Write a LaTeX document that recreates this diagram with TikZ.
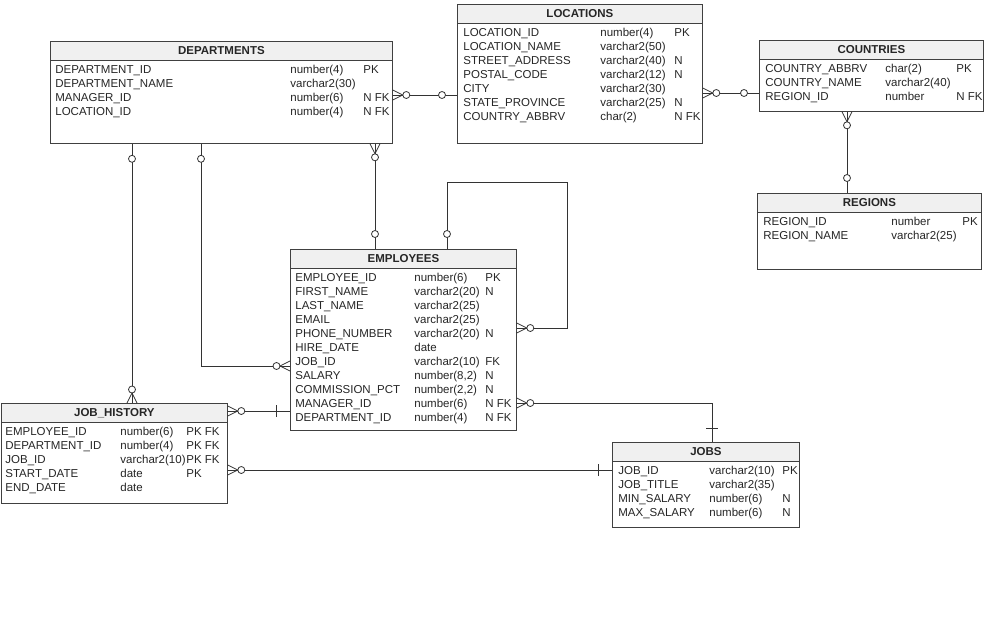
\documentclass[tikz,border=0pt]{standalone}
\usepackage{fontspec}
\setmainfont{Liberation Sans}
\usepackage{xcolor}
\usetikzlibrary{positioning}

\begin{document}
\begin{tikzpicture}[x=1pt, y=-1pt, line width=0.8pt,
  font=\fontsize{11.5}{14}\selectfont, text=black!85,
  tbl/.style={draw=black!75, fill=white, inner sep=0pt, anchor=north west},
  hdr/.style={draw=black!75, fill=gray!12, inner sep=0pt, anchor=north west,
    minimum height=19pt, font=\fontsize{11.5}{14}\selectfont\bfseries},
  cell/.style={anchor=west, inner sep=0pt, text height=8pt, text depth=2pt},
  link/.style={draw=black!80},
  pics/crowfoot/.style={code={
    \draw[black!80] (0,-5) -- (10,0) -- (0,5);
    \draw[black!80, fill=white] (13.5,0) circle (3.5);}},
  pics/zeroone/.style={code={\draw[black!80, fill=white] (15,0) circle (3.5);}},
  pics/onebar/.style={code={\draw[black!80] (14,-6) -- (14,6);}}]

\useasboundingbox (0,0) rectangle (993,621);

% -- DEPARTMENTS --------------------------------------------------------------
\begin{scope}[shift={(50,41)}]
  \node[tbl, minimum width=342pt, minimum height=102pt] (dept) at (0,0) {};
  \node[hdr, minimum width=342pt] (dept-h) at (0,0) {DEPARTMENTS};
  \foreach \n/\t/\f [count=\i] in {DEPARTMENT\_ID/number(4)/PK,
      DEPARTMENT\_NAME/varchar2(30)/, MANAGER\_ID/number(6)/N FK,
      LOCATION\_ID/number(4)/N FK} {
    \node[cell] (dept-n\i) at (5,15+14*\i) {\n};
    \node[cell] (dept-t\i) at (240,15+14*\i) {\t};
    \node[cell] (dept-f\i) at (313,15+14*\i) {\f};
  }
\end{scope}

% -- LOCATIONS ----------------------------------------------------------------
\begin{scope}[shift={(457,4)}]
  \node[tbl, minimum width=245pt, minimum height=139pt] (loc) at (0,0) {};
  \node[hdr, minimum width=245pt] (loc-h) at (0,0) {LOCATIONS};
  \foreach \n/\t/\f [count=\i] in {LOCATION\_ID/number(4)/PK,
      LOCATION\_NAME/varchar2(50)/, STREET\_ADDRESS/varchar2(40)/N,
      POSTAL\_CODE/varchar2(12)/N, CITY/varchar2(30)/,
      STATE\_PROVINCE/varchar2(25)/N, COUNTRY\_ABBRV/char(2)/N FK} {
    \node[cell] (loc-n\i) at (6,15+14*\i) {\n};
    \node[cell] (loc-t\i) at (143,15+14*\i) {\t};
    \node[cell] (loc-f\i) at (217,15+14*\i) {\f};
  }
\end{scope}

% -- COUNTRIES ----------------------------------------------------------------
\begin{scope}[shift={(759,40)}]
  \node[tbl, minimum width=224pt, minimum height=71pt] (ctry) at (0,0) {};
  \node[hdr, minimum width=224pt] (ctry-h) at (0,0) {COUNTRIES};
  \foreach \n/\t/\f [count=\i] in {COUNTRY\_ABBRV/char(2)/PK,
      COUNTRY\_NAME/varchar2(40)/, REGION\_ID/number/N FK} {
    \node[cell] (ctry-n\i) at (6,15+14*\i) {\n};
    \node[cell] (ctry-t\i) at (126,15+14*\i) {\t};
    \node[cell] (ctry-f\i) at (197,15+14*\i) {\f};
  }
\end{scope}

% -- REGIONS ------------------------------------------------------------------
\begin{scope}[shift={(757,193)}]
  \node[tbl, minimum width=224pt, minimum height=76pt] (reg) at (0,0) {};
  \node[hdr, minimum width=224pt] (reg-h) at (0,0) {REGIONS};
  \foreach \n/\t/\f [count=\i] in {REGION\_ID/number/PK,
      REGION\_NAME/varchar2(25)/} {
    \node[cell] (reg-n\i) at (6,15+14*\i) {\n};
    \node[cell] (reg-t\i) at (134,15+14*\i) {\t};
    \node[cell] (reg-f\i) at (205,15+14*\i) {\f};
  }
\end{scope}

% -- EMPLOYEES ----------------------------------------------------------------
\begin{scope}[shift={(290,249)}]
  \node[tbl, minimum width=226pt, minimum height=181pt] (emp) at (0,0) {};
  \node[hdr, minimum width=226pt] (emp-h) at (0,0) {EMPLOYEES};
  \foreach \n/\t/\f [count=\i] in {EMPLOYEE\_ID/number(6)/PK,
      FIRST\_NAME/varchar2(20)/N, LAST\_NAME/varchar2(25)/,
      EMAIL/varchar2(25)/, PHONE\_NUMBER/varchar2(20)/N, HIRE\_DATE/date/,
      JOB\_ID/varchar2(10)/FK, SALARY/{number(8,2)}/N,
      COMMISSION\_PCT/{number(2,2)}/N, MANAGER\_ID/number(6)/N FK,
      DEPARTMENT\_ID/number(4)/N FK} {
    \node[cell] (emp-n\i) at (5,15+14*\i) {\n};
    \node[cell] (emp-t\i) at (124,15+14*\i) {\t};
    \node[cell] (emp-f\i) at (195,15+14*\i) {\f};
  }
\end{scope}

% -- JOB_HISTORY --------------------------------------------------------------
\begin{scope}[shift={(1,403)}]
  \node[tbl, minimum width=226pt, minimum height=100pt] (jhist) at (0,0) {};
  \node[hdr, minimum width=226pt] (jhist-h) at (0,0) {JOB\_HISTORY};
  \foreach \n/\t/\f [count=\i] in {EMPLOYEE\_ID/number(6)/PK FK,
      DEPARTMENT\_ID/number(4)/PK FK, JOB\_ID/varchar2(10)/PK FK,
      START\_DATE/date/PK, END\_DATE/date/} {
    \node[cell] (jhist-n\i) at (4,15+14*\i) {\n};
    \node[cell] (jhist-t\i) at (119,15+14*\i) {\t};
    \node[cell] (jhist-f\i) at (185,15+14*\i) {\f};
  }
\end{scope}

% -- JOBS ---------------------------------------------------------------------
\begin{scope}[shift={(612,442)}]
  \node[tbl, minimum width=187pt, minimum height=85pt] (jobs) at (0,0) {};
  \node[hdr, minimum width=187pt] (jobs-h) at (0,0) {JOBS};
  \foreach \n/\t/\f [count=\i] in {JOB\_ID/varchar2(10)/PK,
      JOB\_TITLE/varchar2(35)/, MIN\_SALARY/number(6)/N,
      MAX\_SALARY/number(6)/N} {
    \node[cell] (jobs-n\i) at (6,15+14*\i) {\n};
    \node[cell] (jobs-t\i) at (97,15+14*\i) {\t};
    \node[cell] (jobs-f\i) at (170,15+14*\i) {\f};
  }
\end{scope}

% -- Relationships ------------------------------------------------------------
\draw[link] (dept.east |- 0,95) -- (loc.west |- 0,95);
\pic at (dept.east |- 0,95) {crowfoot};
\pic[rotate=180] at (loc.west |- 0,95) {zeroone};

\draw[link] (loc.east |- 0,93) -- (ctry.west |- 0,93);
\pic at (loc.east |- 0,93) {crowfoot};
\pic[rotate=180] at (ctry.west |- 0,93) {zeroone};

\draw[link] (ctry.south -| 847,0) -- (reg.north -| 847,0);
\pic[rotate=-90] at (ctry.south -| 847,0) {crowfoot};
\pic[rotate=90] at (reg.north -| 847,0) {zeroone};

\draw[link] (dept.south -| 375,0) -- (emp.north -| 375,0);
\pic[rotate=-90] at (dept.south -| 375,0) {crowfoot};
\pic[rotate=90] at (emp.north -| 375,0) {zeroone};

% manager of an employee
\draw[link] (emp.north -| 447,0) |- (567,182) |- (emp.east |- 0,328);
\pic[rotate=90] at (emp.north -| 447,0) {zeroone};
\pic at (emp.east |- 0,328) {crowfoot};

\draw[link] (dept.south -| 132,0) -- (jhist.north -| 132,0);
\pic[rotate=-90] at (dept.south -| 132,0) {zeroone};
\pic[rotate=90] at (jhist.north -| 132,0) {crowfoot};

\draw[link] (dept.south -| 201,0) |- (emp.west |- 0,366);
\pic[rotate=-90] at (dept.south -| 201,0) {zeroone};
\pic[rotate=180] at (emp.west |- 0,366) {crowfoot};

\draw[link] (jhist.east |- 0,411) -- (emp.west |- 0,411);
\pic at (jhist.east |- 0,411) {crowfoot};
\pic[rotate=180] at (emp.west |- 0,411) {onebar};

\draw[link] (jhist.east |- 0,470) -- (jobs.west |- 0,470);
\pic at (jhist.east |- 0,470) {crowfoot};
\pic[rotate=180] at (jobs.west |- 0,470) {onebar};

\draw[link] (emp.east |- 0,403) -| (jobs.north -| 712,0);
\pic at (emp.east |- 0,403) {crowfoot};
\pic[rotate=90] at (jobs.north -| 712,0) {onebar};

\end{tikzpicture}
\end{document}
